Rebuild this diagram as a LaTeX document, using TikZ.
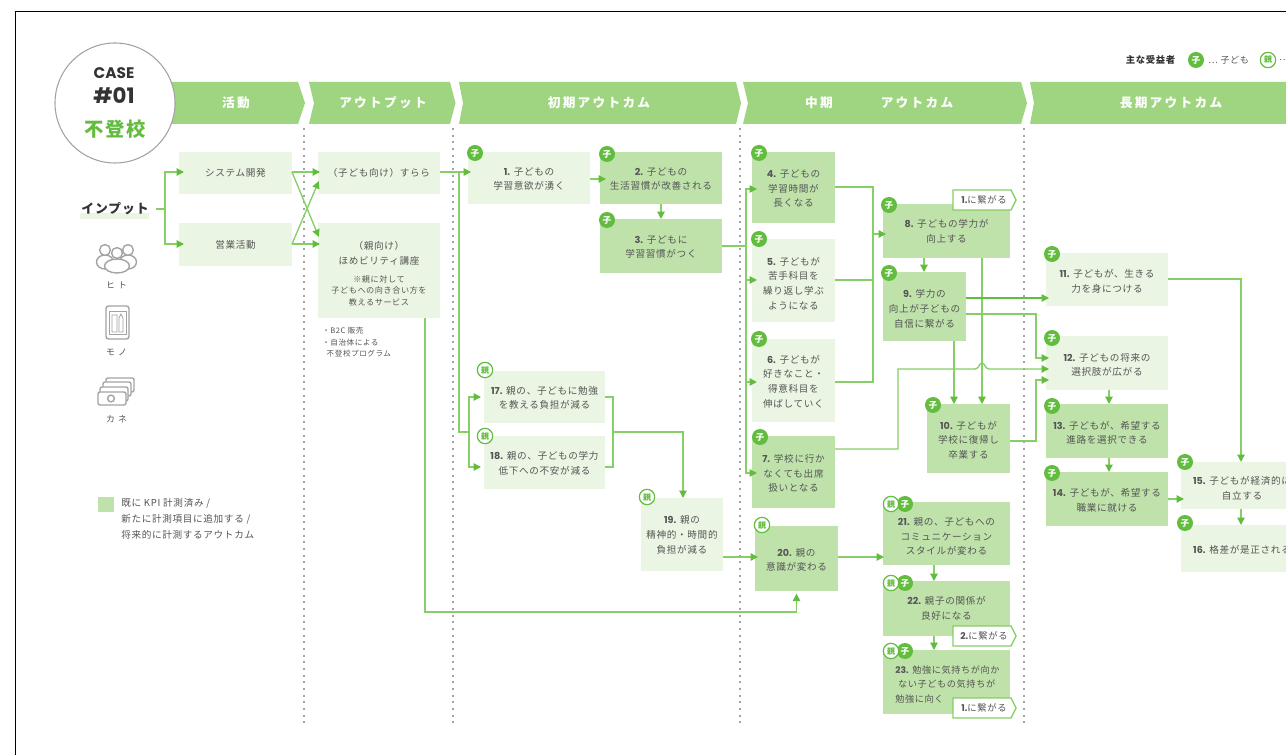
\documentclass[tikz,border=0pt]{standalone}
\usepackage{fontspec}
\setmainfont{Noto Sans CJK JP}[LetterSpace=7]
\newfontfamily\numf{Poppins}
\newfontfamily\hdrf{Noto Sans CJK JP}[LetterSpace=18]
\newfontfamily\widef{Noto Sans CJK JP}[LetterSpace=35]
\usetikzlibrary{arrows.meta,shapes.geometric}
\definecolor{hdr}{HTML}{9FD581}
\definecolor{lite}{HTML}{EAF5E3}
\definecolor{dark}{HTML}{BFE2AA}
\definecolor{lin}{HTML}{86CE66}
\definecolor{arr}{HTML}{62BD3F}
\definecolor{txt}{HTML}{555555}
\definecolor{ico}{HTML}{A3A3A3}
\tikzset{
  x=0.75pt,y=-0.75pt,
  boxtext/.style={inner sep=0pt,outer sep=0pt,align=center,text=txt,font=\fontsize{7.2}{11}\selectfont},
  litebox/.style={inner sep=0pt,outer sep=0pt,anchor=north west,fill=lite},
  darkbox/.style={inner sep=0pt,outer sep=0pt,anchor=north west,fill=dark},
  conn/.style={draw=lin,line width=1pt,line join=miter},
  conna/.style={conn,-{Triangle[length=5.5pt,width=5.5pt,color=arr,fill=arr]}},
  tipin/.style={shorten >=-#1*0.75pt},
  badgec/.style={circle,inner sep=0pt,minimum size=12pt,fill=arr,text=white,font=\fontsize{6.5}{7}\selectfont\bfseries},
  badgep/.style={circle,inner sep=0pt,minimum size=11.5pt,fill=white,draw=arr,line width=0.9pt,text=arr,font=\fontsize{6}{7}\selectfont\bfseries},
  hdrtext/.style={text=white,font=\hdrf\fontsize{9.5}{11}\selectfont\bfseries},
  plain/.style={text=txt,inner sep=0pt,font=\widef\fontsize{6.6}{11}\selectfont,align=left},
  legendtext/.style={text=txt,inner sep=0pt,font=\fontsize{7.2}{12}\selectfont,align=left},
  small/.style={text=txt,inner sep=0pt,font=\fontsize{5.7}{8.6}\selectfont,align=left},
  tagtext/.style={text=txt,inner sep=0pt,font=\fontsize{7}{8}\selectfont},
  tagshape/.style={fill=white,draw=lin,line width=1pt},
  dots/.style={draw=ico,line width=0.9pt,dash pattern=on 1.6pt off 3.4pt},
  icon/.style={draw=ico,line width=1.05pt,fill=white}
}
\newcommand{\tdy}{0}
\newcommand{\bx}[7]{\node[#6,minimum width={(#4-#2)*0.75pt},minimum height={(#5-#3)*0.75pt}] (#1) at (#2,#3) {};
  \node[boxtext,yshift={-\tdy*0.75pt}] (#1t) at (#1.center) {#7};}
\newcommand{\N}[1]{{\numf\bfseries #1}}
\newcommand{\Sm}[1]{{\fontsize{6.1}{8.6}\selectfont #1}}
\newcommand{\bc}[3]{\node[badgec] (#1) at (#2,#3) {子};}
\newcommand{\bp}[3]{\node[badgep] (#1) at (#2,#3) {親};}
\newcommand{\hd}[1]{\fill[hdr] #1;}
\newcommand{\tagp}[3]{\draw[tagshape] (#1,#2) -- ++(58,0) -- ++(5,10) -- ++(-5,10) -- ++(-58,0) -- cycle; \node[tagtext] (#3) at (#1+31,#2+10) }
\begin{document}
\begin{tikzpicture}
\useasboundingbox (0,0) rectangle (1286,755);
\clip (0,0) rectangle (1286,755);
\fill[white] (0,0) rectangle (1286,755);
\draw[black,line width=1.2pt] (1295,11.5) -- (15.5,11.5) -- (15.5,765);

% header chevrons
\hd{(150,82) -- (298,82) -- (305,103) -- (298,124) -- (150,124) -- cycle}
\hd{(309,82) -- (450,82) -- (455.5,103) -- (450,124) -- (309,124) -- (314,103) -- cycle}
\hd{(459,82) -- (736,82) -- (741,103) -- (736,124) -- (459,124) -- (463,103) -- cycle}
\hd{(743,82) -- (1021,82) -- (1027,103) -- (1021,124) -- (743,124) -- (748,103) -- cycle}
\hd{(1030,82) -- (1295,82) -- (1295,124) -- (1030,124) -- (1034,103) -- cycle}
\node[hdrtext] (h1) at (236,103) {活動};
\node[hdrtext] (h2) at (383,103) {アウトプット};
\node[hdrtext] (h3) at (599,103) {初期アウトカム};
\node[hdrtext] (h4) at (819,103) {中期};
\node[hdrtext] (h4b) at (917,103) {アウトカム};
\node[hdrtext] (h5) at (1171,103) {長期アウトカム};

% case circle
\node[circle,minimum size=90pt,inner sep=0pt,fill=white,draw=ico,line width=0.8pt] (casec) at (115,103) {};
\node[text=black!80,inner sep=0pt,font=\numf\fontsize{11.5}{12}\selectfont\bfseries] (case) at (114,73) {CASE};
\node[text=black!80,inner sep=0pt,font=\numf\fontsize{16}{18}\selectfont\bfseries] (cnum) at (114,96) {\#01};
\node[text=arr,inner sep=0pt,font=\fontsize{14.5}{16}\selectfont\bfseries] (cname) at (115,129) {不登校};

% dotted separators
\foreach \xx in {304,453,740,1024} \draw[dots] (\xx,128) -- (\xx,727);

% top legend
\node[text=black!80,inner sep=0pt,font=\fontsize{7}{8}\selectfont\bfseries] (lg0) at (1150.5,60) {主な受益者};
\bc{lgc}{1196}{60}
\node[text=txt,inner sep=0pt,font=\fontsize{6.8}{8}\selectfont,anchor=west] (lg1) at (1208,60) {⋯\ 子ども};
\bp{lgp}{1268}{60}
\node[text=txt,inner sep=0pt,font=\fontsize{6.8}{8}\selectfont,anchor=west] (lg2) at (1279,60) {⋯};

% input column
\fill[lite] (80,213) rectangle (149,219);
\node[text=black!80,inner sep=0pt,font=\fontsize{9.6}{11}\selectfont\bfseries] (input) at (115,209) {インプット};
\draw[icon] (105,262) circle [x radius=8.5,y radius=7];
\draw[icon] (128,262) circle [x radius=8.5,y radius=7];
\draw[icon] (105,250) circle (5.4);
\draw[icon] (128,250) circle (5.4);
\draw[icon] (117,266) circle [x radius=12.5,y radius=7];
\draw[icon] (117,253) circle (5.4);
\node[plain] (hito) at (116.5,285) {ヒト};
\draw[icon,rounded corners=2pt] (106,306) rectangle (129,339);
\draw[draw=ico,line width=0.6pt] (109,311) rectangle (126,334);
\draw[draw=ico,line width=0.6pt] (112,315) rectangle (117,332) (119,332) -- (119,318) -- (121,314) -- (123,318) -- (123,332) -- cycle;
\node[plain] (mono) at (116.5,352) {モノ};
\draw[icon,rounded corners=1.5pt] (106,378) rectangle (134,392);
\draw[icon,rounded corners=1.5pt] (103,382) rectangle (131,396);
\draw[icon,rounded corners=1.5pt] (100,387) rectangle (128,401);
\draw[icon,rounded corners=1.5pt] (98,392) rectangle (126,405);
\draw[icon] (111,398.5) circle (3.4);
\node[plain] (kane) at (116.5,419) {カネ};
\fill[dark] (98,497) rectangle (114,512);
\node[legendtext,anchor=north west] (lgd) at (121,498.5) {既に KPI 計測済み /\\新たに計測項目に追加する /\\将来的に計測するアウトカム};

% boxes
\bx{a1}{179}{152}{292}{194}{litebox}{システム開発}
\bx{a2}{179}{223}{292}{266}{litebox}{営業活動}
\bx{o1}{318}{152}{440}{194}{litebox}{（子ども向け）すらら}
\renewcommand{\tdy}{3}
\bx{o2}{318}{223}{440}{318}{litebox}{（親向け）\\ほめビリティ講座\\[2.5pt]\Sm{※親に対して}\\[-2.4pt]\Sm{子どもへの向き合い方を}\\[-2.4pt]\Sm{教えるサービス}}
\node[small,anchor=north west] (o3) at (322,327) {・B2C 販売\\・自治体による\\\ \ 不登校プログラム};
\renewcommand{\tdy}{1}
\bx{b1}{468}{152}{590}{204}{litebox}{\N{1.} 子どもの\\学習意欲が湧く}
\bx{b2}{600}{152}{722}{204}{darkbox}{\N{2.} 子どもの\\生活習慣が改善される}
\bx{b3}{600}{219}{722}{273}{darkbox}{\N{3.} 子どもに\\学習習慣がつく}
\bx{b4}{752}{152}{835}{223}{darkbox}{\N{4.} 子どもの\\学習時間が\\長くなる}
\renewcommand{\tdy}{3}
\bx{b5}{752}{239}{835}{322}{litebox}{\N{5.} 子どもが\\苦手科目を\\繰り返し学ぶ\\ようになる}
\renewcommand{\tdy}{1}
\bx{b6}{752}{339}{835}{422}{litebox}{\N{6.} 子どもが\\好きなこと・\\得意科目を\\伸ばしていく}
\renewcommand{\tdy}{1.5}
\bx{b7}{752}{436}{835}{508}{darkbox}{\N{7.} 学校に行か\\なくても出席\\扱いとなる}
\renewcommand{\tdy}{0.5}
\bx{b8}{883}{204}{1010}{258}{darkbox}{\N{8.} 子どもの学力が\\向上する}
\renewcommand{\tdy}{2.5}
\bx{b9}{883}{272}{966}{341}{darkbox}{\N{9.} 学力の\\向上が子どもの\\自信に繋がる}
\renewcommand{\tdy}{1.5}
\bx{b10}{927}{404}{1010}{473}{darkbox}{\N{10.} 子どもが\\学校に復帰し\\卒業する}
\renewcommand{\tdy}{2}
\bx{b11}{1046}{253}{1168}{306}{litebox}{\N{11.} 子どもが、生きる\\力を身につける}
\bx{b12}{1046}{336}{1168}{390}{litebox}{\N{12.} 子どもの将来の\\選択肢が広がる}
\bx{b13}{1046}{404}{1168}{458}{darkbox}{\N{13.} 子どもが、希望する\\進路を選択できる}
\renewcommand{\tdy}{1.5}
\bx{b14}{1046}{472}{1168}{526}{darkbox}{\N{14.} 子どもが、希望する\\職業に就ける}
\renewcommand{\tdy}{3}
\bx{b15}{1181}{462}{1303}{509}{litebox}{\N{15.} 子どもが経済的に\\自立する}
\renewcommand{\tdy}{1}
\bx{b16}{1181}{525}{1303}{572}{litebox}{\N{16.} 格差が是正される}
\renewcommand{\tdy}{1}
\bx{b17}{484}{371}{605}{423}{litebox}{\N{17.} 親の、子どもに勉強\\を教える負担が減る}
\bx{b18}{484}{436}{605}{489}{litebox}{\N{18.} 親の、子どもの学力\\低下への不安が減る}
\renewcommand{\tdy}{0.3}
\bx{b19}{641}{498}{723}{571}{litebox}{\N{19.} 親の\\精神的・時間的\\負担が減る}
\renewcommand{\tdy}{1.5}
\bx{b20}{755}{526}{838}{591}{darkbox}{\N{20.} 親の\\意識が変わる}
\renewcommand{\tdy}{3}
\bx{b21}{883}{502}{1010}{565}{darkbox}{\N{21.} 親の、子どもへの\\コミュニケーション\\スタイルが変わる}
\renewcommand{\tdy}{0}
\bx{b22}{883}{581}{1010}{636}{darkbox}{\N{22.} 親子の関係が\\良好になる}
\node[darkbox,minimum width={127*0.75pt},minimum height={64*0.75pt}] (b23) at (883,650) {};
\node[boxtext,align=left,font=\fontsize{6.85}{11}\selectfont,anchor=center] (b23t) at (947.5,684.5) {\N{23.} 勉強に気持ちが向か\\\ ない子どもの気持ちが\\勉強に向く};

% connectors
\coordinate (inj) at (165,209);
\draw[conn] (input.east |- inj) ++(7,0) -- (inj);
\draw[conna,tipin=5] (inj) |- (a1.west |- 0,172);
\draw[conna,tipin=5] (inj) |- (a2.west |- 0,244);
\draw[conna,tipin=2] (a1.east |- 0,172) -- (o1.west |- 0,172);
\draw[conna,tipin=2] (a1.east |- 0,172) -- (o2.west |- 0,235);
\draw[conna,tipin=2] (a2.east |- 0,244) -- (o1.west |- 0,183);
\draw[conna,tipin=2] (a2.east |- 0,244) -- (o2.west |- 0,244);
\draw[conna,tipin=3] (o1.east |- 0,172) -- (b1.west |- 0,172);
\coordinate (sj) at (459,172);
\coordinate (pj) at (469,432);
\draw[conn] (sj) |- (pj);
\draw[conna,tipin=-3] (pj) |- (b17.west |- 0,397);
\draw[conna,tipin=-3] (pj) |- (b18.west |- 0,467);
\draw[conna,tipin=6] (b1.east |- 0,179) -- (b2.west |- 0,179);
\draw[conna] (b2.south) -- (b3.north);
\coordinate (cj) at (746,246);
\draw[conn] (b3.east |- cj) -- (cj);
\draw[conna,tipin=5] (cj) |- (b4.west |- 0,189);
\draw[conna,tipin=5] (cj) |- (b5.west |- 0,280);
\draw[conna,tipin=5] (cj) |- (b6.west |- 0,382);
\draw[conna,tipin=5] (cj) |- (b7.west |- 0,473);
\coordinate (mj) at (873,234);
\draw[conn] (b4.east |- 0,187) -| (mj);
\draw[conn] (b5.east |- 0,280) -| (mj);
\draw[conn] (b6.east |- 0,382) -| (mj);
\draw[conna,tipin=3] (mj) -- (b8.west |- mj);
\draw[conna] (b8.south -| 924,0) -- (b9.north -| 924,0);
\draw[conna] (b8.south -| 982,0) -- (b10.north -| 982,0);
\draw[conna] (b9.south -| 954,0) -- (b10.north -| 954,0);
\draw[conna,tipin=3,draw=arr] (b9.east |- 0,298) -- (b11.west |- 0,298);
\draw[conna,tipin=3] (b9.east |- 0,314) -| (1036,336) |- (b12.west |- 0,358);
\draw[conna,tipin=3] (b7.east |- 0,449) -- (898,449) -- (898,369) -- (975,369) .. controls (979,369) and (979,363) .. (982,363) .. controls (985,363) and (985,369) .. (989,369) -- (b12.west |- 0,369);
\draw[conna,tipin=3] (b10.east |- 0,441) -| (1036,400) |- (b12.west |- 0,380);
\draw[conna] (b12.south -| 1109,0) -- (b13.north -| 1109,0);
\draw[conna] (b13.south -| 1109,0) -- (b14.north -| 1109,0);
\draw[conna] (b11.east |- 0,279) -| (b15.north -| 1241,0);
\draw[conna,tipin=3] (b14.east |- 0,499) -- (b15.west |- 0,499);
\draw[conna] (b15.south -| 1241,0) -- (b16.north -| 1241,0);
\draw[conn] (b17.east |- 0,397) -| (613,467) -- (b18.east |- 0,467);
\draw[conna] (613,432) -| (b19.north -| 683,0);
\draw[conna,tipin=3] (b19.east |- 0,557) -- (b20.west |- 0,557);
\draw[conna,tipin=1] (b20.east |- 0,557) -- (b21.west |- 0,557);
\draw[conna,shorten >=2pt] (o2.south -| 425,0) |- (796.5,612) -- (b20.south -| 796.5,0);
\draw[conna] (b21.south -| 934,0) -- (b22.north -| 934,0);
\draw[conna] (b22.south -| 934,0) -- (b23.north -| 934,0);

% tags
\tagp{953}{190}{t1}{\N{1.}に繋がる};
\tagp{953}{626}{t2}{\N{2.}に繋がる};
\tagp{953}{698}{t3}{\N{1.}に繋がる};

% badges
\bc{k1}{475}{153} \bc{k2}{607}{154} \bc{k3}{607}{220} \bc{k4}{759}{153} \bc{k5}{759}{239} \bc{k6}{759}{339} \bc{k7}{760}{437}
\bc{k8}{889}{205} \bc{k9}{889}{273} \bc{k10}{933}{405} \bc{k11}{1052}{254} \bc{k12}{1052}{338} \bc{k13}{1052}{406} \bc{k14}{1052}{473}
\bc{k15}{1185}{462} \bc{k16}{1185}{523}
\bp{p17}{485}{370} \bp{p18}{485}{436} \bp{p19}{647}{497} \bp{p20}{762}{525}
\bc{k21}{905}{504} \bp{p21}{891}{504}
\bc{k22}{905}{583} \bp{p22}{891}{583}
\bc{k23}{905}{651} \bp{p23}{891}{651}
\end{tikzpicture}
\end{document}
